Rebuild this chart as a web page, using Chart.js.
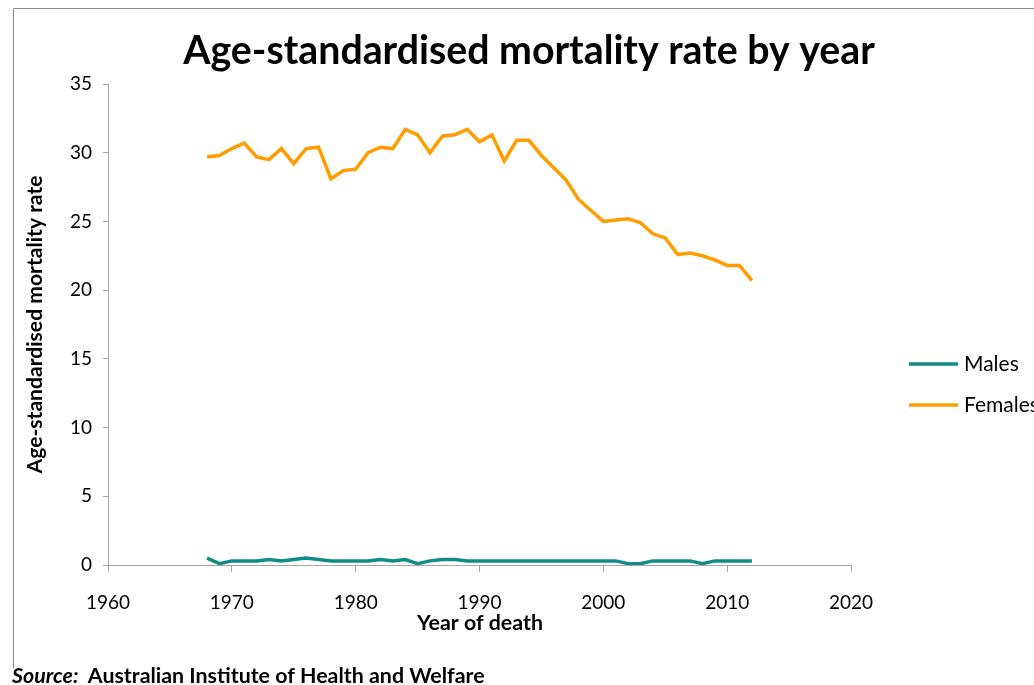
<!DOCTYPE html>
<html>
<head>
<meta charset="utf-8">
<script src="https://cdn.jsdelivr.net/npm/chart.js@4"></script>
<style>
    body { margin: 0; background: #fff; overflow: hidden; }
    #wrap { width: 1034px; height: 685px; position: relative; }
</style>
</head>
<body>
<div id="wrap"><canvas id="mortalityChart"></canvas></div>
<script>
// Chart data
const years = [
    1968, 1969, 1970, 1971, 1972, 1973, 1974, 1975, 1976, 1977,
    1978, 1979, 1980, 1981, 1982, 1983, 1984, 1985, 1986, 1987,
    1988, 1989, 1990, 1991, 1992, 1993, 1994, 1995, 1996, 1997,
    1998, 1999, 2000, 2001, 2002, 2003, 2004, 2005, 2006, 2007,
    2008, 2009, 2010, 2011, 2012
];
const males = [
    0.5, 0.1, 0.3, 0.3, 0.3, 0.4, 0.3, 0.4, 0.5, 0.4,
    0.3, 0.3, 0.3, 0.3, 0.4, 0.3, 0.4, 0.1, 0.3, 0.4,
    0.4, 0.3, 0.3, 0.3, 0.3, 0.3, 0.3, 0.3, 0.3, 0.3,
    0.3, 0.3, 0.3, 0.3, 0.1, 0.1, 0.3, 0.3, 0.3, 0.3,
    0.1, 0.3, 0.3, 0.3, 0.3
];
const females = [
    29.7, 29.8, 30.3, 30.7, 29.7, 29.5, 30.3, 29.2, 30.3, 30.4,
    28.1, 28.7, 28.8, 30.0, 30.4, 30.3, 31.7, 31.3, 30.0, 31.2,
    31.3, 31.7, 30.8, 31.3, 29.4, 30.9, 30.9, 29.8, 28.9, 28.0,
    26.6, 25.8, 25.0, 25.1, 25.2, 24.9, 24.1, 23.8, 22.6, 22.7,
    22.5, 22.2, 21.8, 21.8, 20.7
];
const seriesLabels = ["Males", "Females"];
const seriesColors = ["#108b87", "#ff9c00"];
const xTicks = [1960, 2020, 10];   // min, max, step
const yTicks = [0, 35, 5];

const titleText = "Age-standardised mortality rate by year";
const xTitle = "Year of death";
const yTitle = "Age-standardised mortality rate";
const sourceLead = "Source:";
const sourceText = "Australian Institute of Health and Welfare";

const FONT = "Lato";
const axisGrey = "#a6a6a6";

// pick a font size so the text takes the same width as in the reference
function fitFont(ctx, text, style, width) {
    ctx.font = `${style} 20px ${FONT}`;
    const size = 20 * width / ctx.measureText(text).width;
    ctx.font = `${style} ${size}px ${FONT}`;
    return size;
}

// Titles, legend, frame and source line
const decorations = {
    id: "decorations",
    afterDraw(chart) {
        const ctx = chart.ctx;
        const area = chart.chartArea;
        ctx.save();

        // outer frame
        ctx.strokeStyle = "#8c8c8c";
        ctx.lineWidth = 1;
        ctx.beginPath();
        ctx.moveTo(13.5, 668);
        ctx.lineTo(13.5, 8.5);
        ctx.lineTo(1034, 8.5);
        ctx.stroke();

        // main title
        ctx.fillStyle = "#000";
        ctx.textAlign = "center";
        ctx.textBaseline = "alphabetic";
        fitFont(ctx, titleText, "bold", 692);
        ctx.fillText(titleText, 529, 64);

        // axis titles
        fitFont(ctx, xTitle, "bold", 126);
        ctx.fillText(xTitle, 480, 630);
        ctx.save();
        ctx.translate(42, (area.top + area.bottom) / 2);
        ctx.rotate(-Math.PI / 2);
        fitFont(ctx, yTitle, "bold", 298);
        ctx.fillText(yTitle, 0, 0);
        ctx.restore();

        // legend
        ctx.textAlign = "left";
        ctx.textBaseline = "middle";
        ctx.font = `21px ${FONT}`;
        chart.data.datasets.forEach((ds, i) => {
            const y = 364 + i * 41;
            ctx.strokeStyle = ds.borderColor;
            ctx.lineWidth = 3.5;
            ctx.beginPath();
            ctx.moveTo(909, y);
            ctx.lineTo(958, y);
            ctx.stroke();
            ctx.fillStyle = "#000";
            ctx.fillText(ds.label, 964, y);
        });

        // source line
        ctx.textBaseline = "alphabetic";
        ctx.font = `bold 20px ${FONT}`;
        const restW = ctx.measureText(sourceText).width;
        ctx.font = `italic bold 20px ${FONT}`;
        const leadW = ctx.measureText(sourceLead + "  ").width;
        const size = 20 * 473 / (restW + leadW);
        ctx.font = `italic bold ${size}px ${FONT}`;
        ctx.fillText(sourceLead, 12, 683);
        const off = ctx.measureText(sourceLead + "  ").width;
        ctx.font = `bold ${size}px ${FONT}`;
        ctx.fillText(sourceText, 12 + off, 683);

        ctx.restore();
    }
};

const ctx = document.getElementById("mortalityChart").getContext("2d");
new Chart(ctx, {
    type: "line",
    data: {
        datasets: [males, females].map((values, i) => ({
            label: seriesLabels[i],
            data: values.map((v, k) => ({ x: years[k], y: v })),
            borderColor: seriesColors[i],
            backgroundColor: seriesColors[i],
            borderWidth: 3.5,
            pointRadius: 0,
            tension: 0,
            fill: false
        }))
    },
    options: {
        responsive: true,
        maintainAspectRatio: false,
        animation: false,
        layout: {
            padding: { top: 84, right: 183, left: 0, bottom: 0 }
        },
        scales: {
            x: {
                type: "linear",
                min: xTicks[0],
                max: xTicks[1],
                afterFit: scale => { scale.height = 120; },
                ticks: {
                    stepSize: xTicks[2],
                    color: "#000",
                    font: { family: FONT, size: 19 },
                    padding: 19,
                    callback: v => String(v)
                },
                grid: {
                    drawOnChartArea: false,
                    color: axisGrey,
                    tickLength: 7
                },
                border: { color: axisGrey }
            },
            y: {
                min: yTicks[0],
                max: yTicks[1],
                afterFit: scale => { scale.width = 108; },
                ticks: {
                    stepSize: yTicks[2],
                    color: "#000",
                    font: { family: FONT, size: 19 },
                    padding: 11
                },
                grid: {
                    drawOnChartArea: false,
                    color: axisGrey,
                    tickLength: 5
                },
                border: { color: axisGrey }
            }
        },
        plugins: {
            legend: { display: false },
            title: { display: false },
            tooltip: { enabled: false }
        }
    },
    plugins: [decorations]
});
</script>
</body>
</html>
